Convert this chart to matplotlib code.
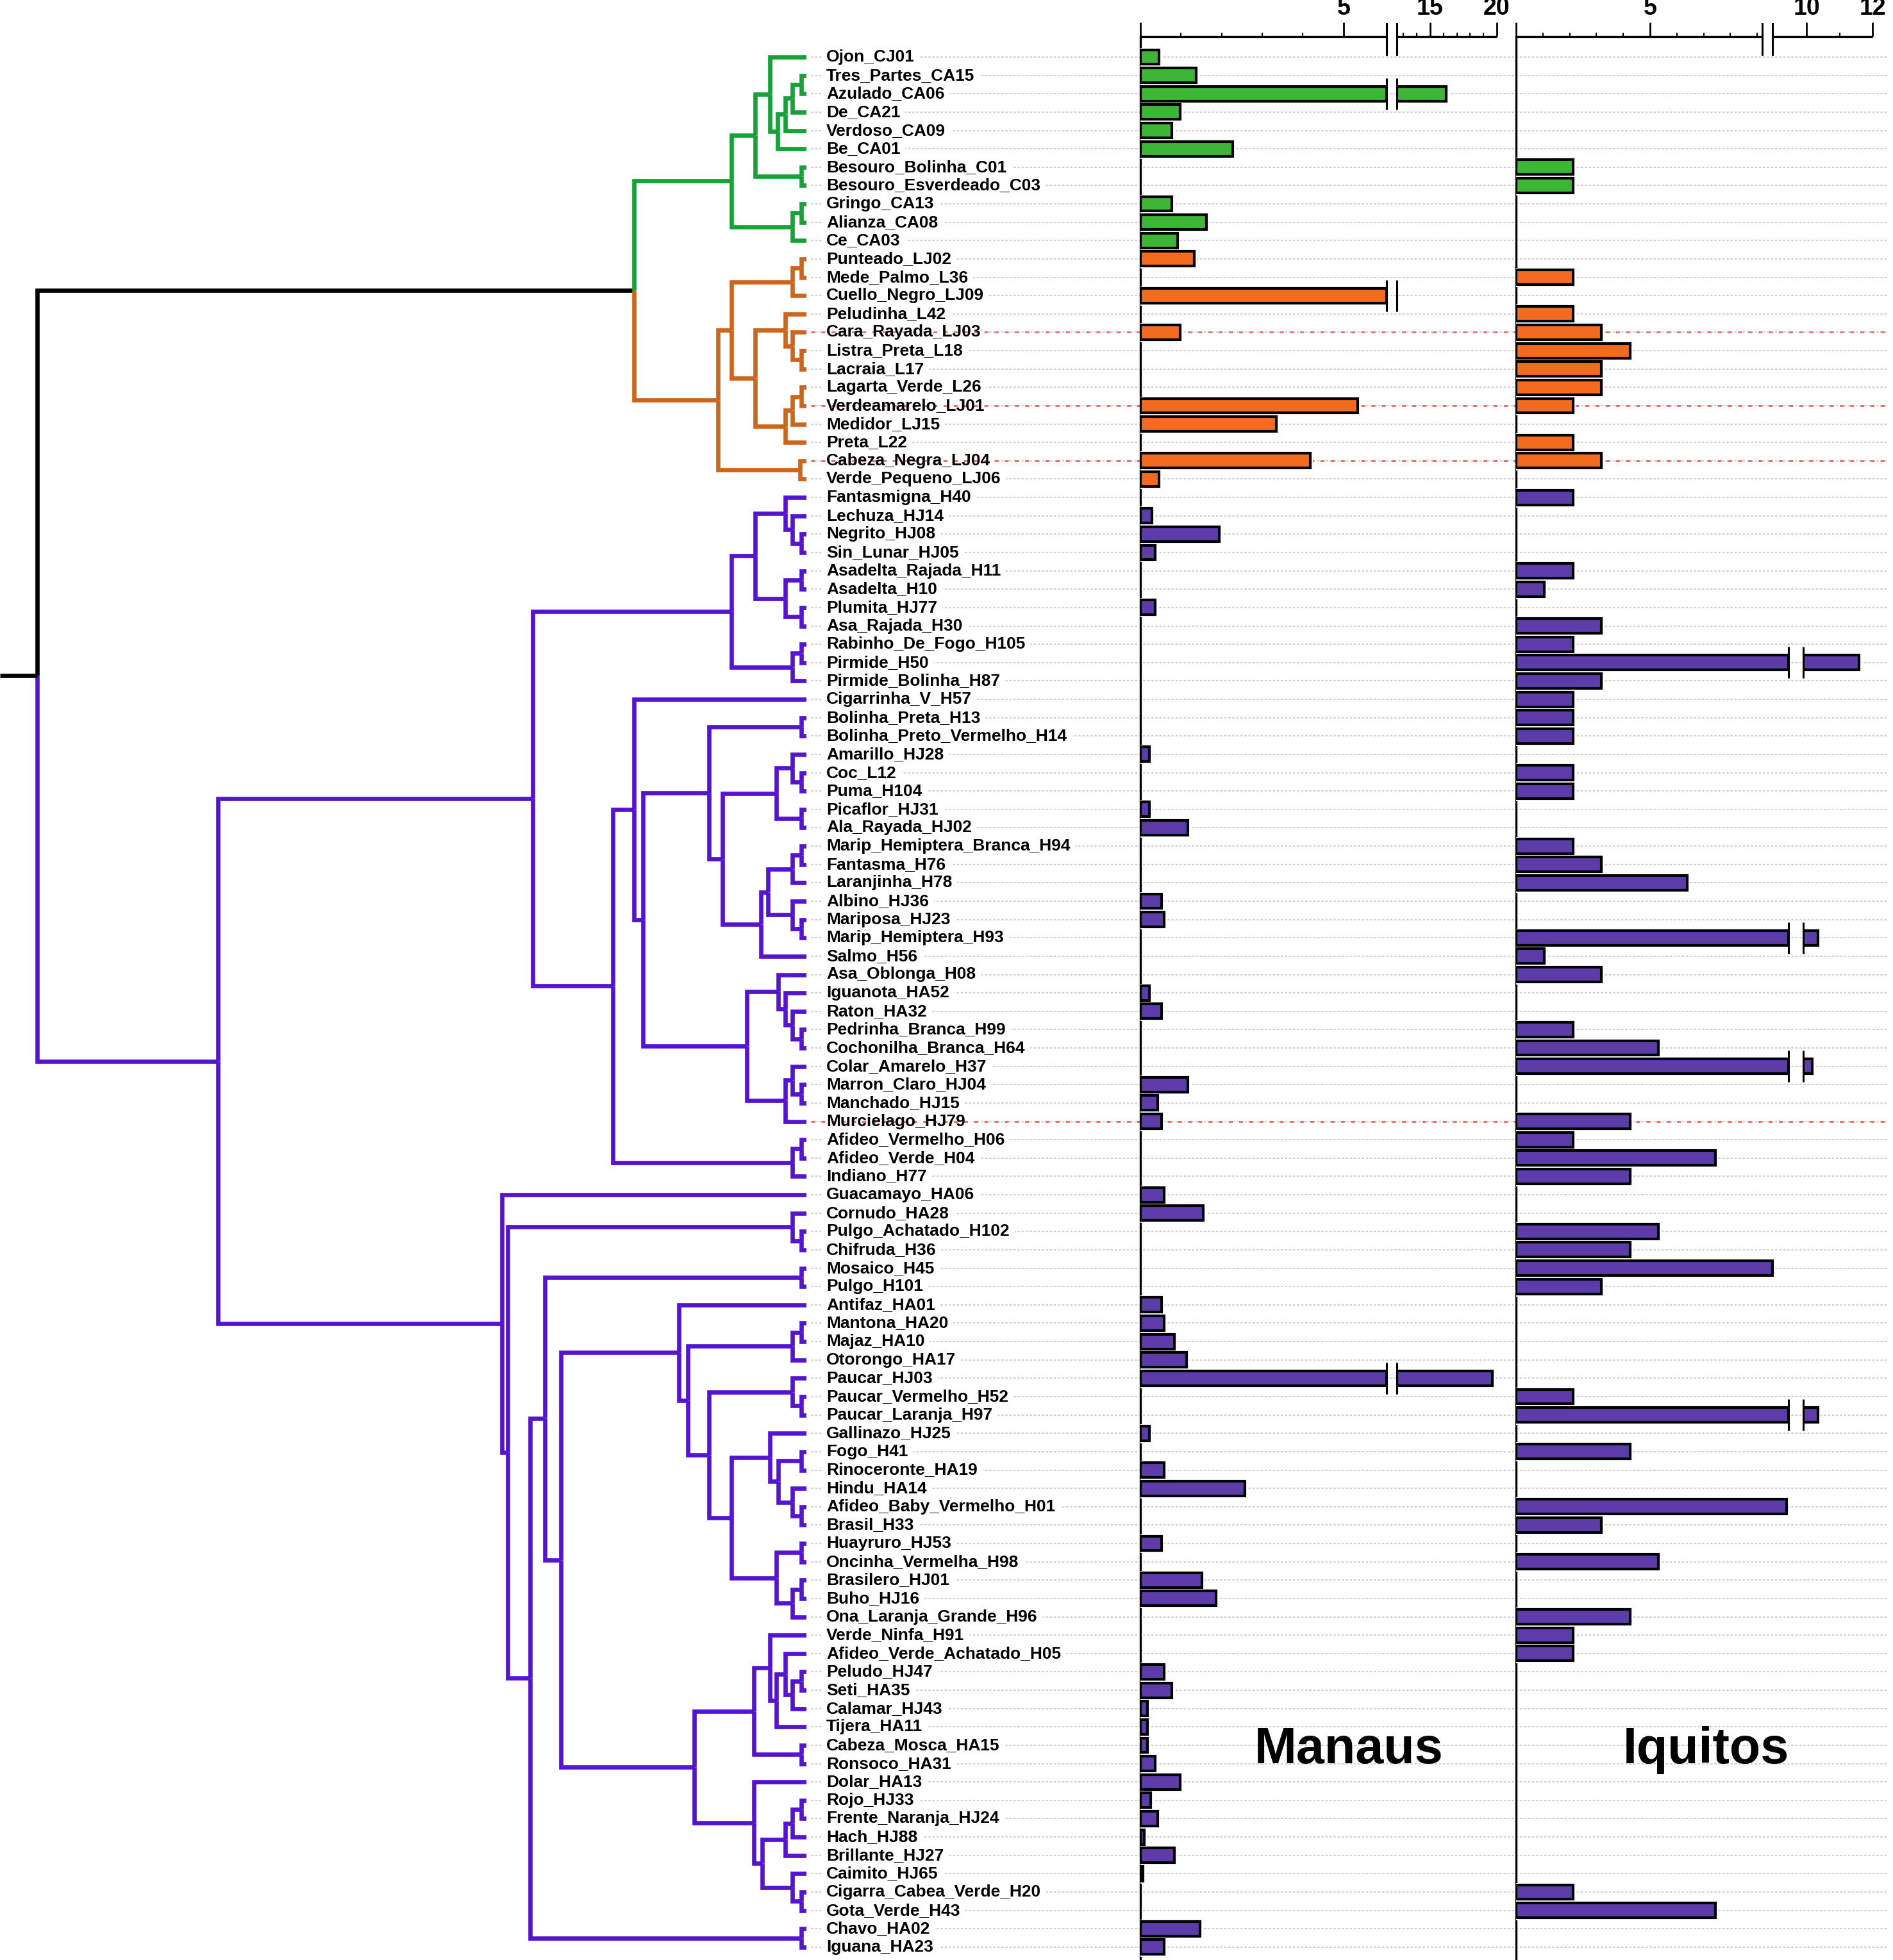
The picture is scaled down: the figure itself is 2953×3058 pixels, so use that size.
import numpy as np
import matplotlib
matplotlib.use("Agg")
import matplotlib.pyplot as plt
import matplotlib.patheffects as pe

plt.rcParams["font.family"] = ["Liberation Sans", "DejaVu Sans"]
plt.rcParams["font.weight"] = "bold"

# ---------------- data ----------------
species = [
    "Ojon_CJ01", "Tres_Partes_CA15", "Azulado_CA06", "De_CA21", "Verdoso_CA09", "Be_CA01",
    "Besouro_Bolinha_C01", "Besouro_Esverdeado_C03", "Gringo_CA13", "Alianza_CA08", "Ce_CA03",
    "Punteado_LJ02", "Mede_Palmo_L36", "Cuello_Negro_LJ09", "Peludinha_L42", "Cara_Rayada_LJ03",
    "Listra_Preta_L18", "Lacraia_L17", "Lagarta_Verde_L26", "Verdeamarelo_LJ01", "Medidor_LJ15",
    "Preta_L22", "Cabeza_Negra_LJ04", "Verde_Pequeno_LJ06",
    "Fantasmigna_H40", "Lechuza_HJ14", "Negrito_HJ08", "Sin_Lunar_HJ05", "Asadelta_Rajada_H11",
    "Asadelta_H10", "Plumita_HJ77", "Asa_Rajada_H30", "Rabinho_De_Fogo_H105", "Pirmide_H50",
    "Pirmide_Bolinha_H87", "Cigarrinha_V_H57", "Bolinha_Preta_H13", "Bolinha_Preto_Vermelho_H14",
    "Amarillo_HJ28", "Coc_L12", "Puma_H104", "Picaflor_HJ31", "Ala_Rayada_HJ02",
    "Marip_Hemiptera_Branca_H94", "Fantasma_H76", "Laranjinha_H78", "Albino_HJ36", "Mariposa_HJ23",
    "Marip_Hemiptera_H93", "Salmo_H56", "Asa_Oblonga_H08", "Iguanota_HA52", "Raton_HA32",
    "Pedrinha_Branca_H99", "Cochonilha_Branca_H64", "Colar_Amarelo_H37", "Marron_Claro_HJ04",
    "Manchado_HJ15", "Murcielago_HJ79", "Afideo_Vermelho_H06", "Afideo_Verde_H04", "Indiano_H77",
    "Guacamayo_HA06", "Cornudo_HA28", "Pulgo_Achatado_H102", "Chifruda_H36", "Mosaico_H45",
    "Pulgo_H101", "Antifaz_HA01", "Mantona_HA20", "Majaz_HA10", "Otorongo_HA17", "Paucar_HJ03",
    "Paucar_Vermelho_H52", "Paucar_Laranja_H97", "Gallinazo_HJ25", "Fogo_H41", "Rinoceronte_HA19",
    "Hindu_HA14", "Afideo_Baby_Vermelho_H01", "Brasil_H33", "Huayruro_HJ53", "Oncinha_Vermelha_H98",
    "Brasilero_HJ01", "Buho_HJ16", "Ona_Laranja_Grande_H96", "Verde_Ninfa_H91",
    "Afideo_Verde_Achatado_H05", "Peludo_HJ47", "Seti_HA35", "Calamar_HJ43", "Tijera_HA11",
    "Cabeza_Mosca_HA15", "Ronsoco_HA31", "Dolar_HA13", "Rojo_HJ33", "Frente_Naranja_HJ24",
    "Hach_HJ88", "Brillante_HJ27", "Caimito_HJ65", "Cigarra_Cabea_Verde_H20", "Gota_Verde_H43",
    "Chavo_HA02", "Iguana_HA23",
]

# % of individuals per population (rows in the same order as species)
manaus = [
    0.46, 1.38, 16.2, 0.98, 0.77, 2.27, 0, 0, 0.77, 1.63,
    0.92, 1.32, 0, 12.0, 0, 0.98, 0, 0, 0, 5.35,
    3.35, 0, 4.18, 0.46, 0, 0.28, 1.94, 0.37, 0, 0,
    0.37, 0, 0, 0, 0, 0, 0, 0, 0.22, 0,
    0, 0.22, 1.17, 0, 0, 0, 0.52, 0.58, 0, 0,
    0, 0.22, 0.52, 0, 0, 0, 1.17, 0.43, 0.52, 0,
    0, 0, 0.58, 1.54, 0, 0, 0, 0, 0.52, 0.58,
    0.83, 1.14, 19.66, 0, 0, 0.22, 0, 0.58, 2.58, 0,
    0, 0.52, 0, 1.51, 1.87, 0, 0, 0, 0.58, 0.77,
    0.18, 0.18, 0.18, 0.37, 0.98, 0.25, 0.43, 0.09, 0.83, 0.06,
    0, 0, 1.47, 0.58,
]
iquitos = [
    0, 0, 0, 0, 0, 0, 2.13, 2.13, 0, 0,
    0, 0, 2.13, 0, 2.13, 3.19, 4.26, 3.19, 3.19, 2.13,
    0, 2.13, 3.19, 0, 2.13, 0, 0, 0, 2.13, 1.06,
    0, 3.19, 2.13, 11.6, 3.19, 2.13, 2.13, 2.13, 0, 2.13,
    2.13, 0, 0, 2.13, 3.19, 6.38, 0, 0, 10.35, 1.06,
    3.19, 0, 0, 2.13, 5.32, 10.18, 0, 0, 4.26, 2.13,
    7.45, 4.26, 0, 0, 5.32, 4.26, 9.57, 3.19, 0, 0,
    0, 0, 0, 2.13, 10.35, 0, 4.26, 0, 0, 10.1,
    3.19, 0, 5.32, 0, 0, 4.26, 2.13, 2.13, 0, 0,
    0, 0, 0, 0, 0, 0, 0, 0, 0, 0,
    2.13, 7.45, 0, 0,
]

highlighted = ["Cara_Rayada_LJ03", "Verdeamarelo_LJ01", "Cabeza_Negra_LJ04", "Murcielago_HJ79"]

# dendrogram (newick, internal labels = node height)
green_tree = ("(((Ojon_CJ01,((((Tres_Partes_CA15,Azulado_CA06)4,De_CA21)11.5,Verdoso_CA09)17,Be_CA01)23)29.5,"
              "(Besouro_Bolinha_C01,Besouro_Esverdeado_C03)4)41,((Gringo_CA13,Alianza_CA08)4,Ce_CA03)11.5)60")
orange_tree = ("((((Punteado_LJ02,Mede_Palmo_L36)4,Cuello_Negro_LJ09)11.5,((Peludinha_L42,(Cara_Rayada_LJ03,"
               "(Listra_Preta_L18,Lacraia_L17)4)11.5)17,(((Lagarta_Verde_L26,Verdeamarelo_LJ01)4,Medidor_LJ15)11.5,"
               "Preta_L22)17)41)60,(Cabeza_Negra_LJ04,Verde_Pequeno_LJ06)5)71")

p_h = ("(((Fantasmigna_H40,(Lechuza_HJ14,(Negrito_HJ08,Sin_Lunar_HJ05)4)11.5)17,((Asadelta_Rajada_H11,Asadelta_H10)4,"
       "(Plumita_HJ77,Asa_Rajada_H30)4)17)41,((Rabinho_De_Fogo_H105,Pirmide_H50)4,Pirmide_Bolinha_H87)11.5)60")
p_q1 = "((Amarillo_HJ28,(Coc_L12,Puma_H104)4)11.5,(Picaflor_HJ31,Ala_Rayada_HJ02)4)24"
p_q2 = ("((((Marip_Hemiptera_Branca_H94,Fantasma_H76)4,Laranjinha_H78)11.5,(Albino_HJ36,"
        "(Mariposa_HJ23,Marip_Hemiptera_H93)4)11.5)31,Salmo_H56)36.5")
p_s1 = "(Asa_Oblonga_H08,(Iguanota_HA52,(Raton_HA32,(Pedrinha_Branca_H99,Cochonilha_Branca_H64)4)11.5)17)22.6"
p_s2 = "((Colar_Amarelo_H37,(Marron_Claro_HJ04,Manchado_HJ15)4)11.5,Murcielago_HJ79)17"
p_hj = ("((Cigarrinha_V_H57,(((Bolinha_Preta_H13,Bolinha_Preto_Vermelho_H14)4,(" + p_q1 + "," + p_q2 + ")67)78,("
        + p_s1 + "," + p_s2 + ")47.6)131)138,((Afideo_Vermelho_H06,Afideo_Verde_H04)4,Indiano_H77)11.5)155")
p_a1 = ("((Gallinazo_HJ25,((Fogo_H41,Rinoceronte_HA19)4,(Hindu_HA14,(Afideo_Baby_Vermelho_H01,Brasil_H33)4)11.5)22.6)29.5,"
        "((Huayruro_HJ53,Oncinha_Vermelha_H98)4,((Brasilero_HJ01,Buho_HJ16)4,Ona_Laranja_Grande_H96)11.5)24)60")
p_a = ("(Antifaz_HA01,(((Mantona_HA20,Majaz_HA10)4,Otorongo_HA17)11.5,((Paucar_HJ03,(Paucar_Vermelho_H52,"
       "Paucar_Laranja_H97)4)11.5," + p_a1 + ")78)95)102")
p_b = ("(((Verde_Ninfa_H91,((Afideo_Verde_Achatado_H05,((Peludo_HJ47,Seti_HA35)4,Calamar_HJ43)11.5)17,Tijera_HA11)24)29.5,"
       "(Cabeza_Mosca_HA15,Ronsoco_HA31)4)42,(Dolar_HA13,((((Rojo_HJ33,Frente_Naranja_HJ24)4,Hach_HJ88)11.5,"
       "Brillante_HJ27)17,(Caimito_HJ65,(Cigarra_Cabea_Verde_H20,Gota_Verde_H43)4)11.5)35.3)42)90")
p_low = ("(Guacamayo_HA06,((Cornudo_HA28,(Pulgo_Achatado_H102,Chifruda_H36)4)11.5,(((Mosaico_H45,Pulgo_H101)4,("
         + p_a + "," + p_b + ")196.8)209.6,(Chavo_HA02,Iguana_HA23)4)221)239)244")
purple_tree = "((" + p_h + "," + p_hj + ")219," + p_low + ")471"

split_green_orange = 138
root_height = 616

# ---------------- layout ----------------
W, H, DPI = 2953, 3058, 100
TOP_PX, ROW0_PX, ROW_PX = 57, 89, 28.63
AX_H_PX = H - TOP_PX
n = len(species)
rows = np.arange(n)
ylim = ((H - ROW0_PX) / ROW_PX, -(ROW0_PX - TOP_PX) / ROW_PX)

TREE_COL = {"g": "#17a238", "o": "#cd661d", "p": "#5414d2", "k": "black"}
BAR_COL = {"g": "#3db535", "o": "#f26b1e", "p": "#5b3ca8"}

fig = plt.figure(figsize=(W / DPI, H / DPI), dpi=DPI)
fig.patch.set_facecolor("white")


def panel_axes(x0, x1, z):
    ax = fig.add_axes([x0 / W, 0, (x1 - x0) / W, AX_H_PX / H], zorder=z)
    ax.set_ylim(*ylim)
    ax.patch.set_visible(False)
    for s in ax.spines.values():
        s.set_visible(False)
    ax.set_yticks([])
    return ax


def parse(s):
    pos = 0

    def node():
        nonlocal pos
        if s[pos] == "(":
            pos += 1
            kids = [node()]
            while s[pos] == ",":
                pos += 1
                kids.append(node())
            pos += 1
            j = pos
            while pos < len(s) and s[pos] not in ",)":
                pos += 1
            return {"kids": kids, "h": float(s[j:pos])}
        j = pos
        while s[pos] not in ",)":
            pos += 1
        return {"name": s[j:pos], "h": 0.0}

    return node()


def paint(nd, c):
    nd["col"] = c
    for k in nd.get("kids", []):
        paint(k, c)


g, o, p = parse(green_tree), parse(orange_tree), parse(purple_tree)
paint(g, "g"); paint(o, "o"); paint(p, "p")
go = {"kids": [g, o], "h": split_green_orange, "col": "k"}
root = {"kids": [go, p], "h": root_height, "col": "k"}

leaf_order, leaf_col = [], []


def layout(nd):
    if "name" in nd:
        nd["y"] = len(leaf_order)
        leaf_order.append(nd["name"])
        leaf_col.append(nd["col"])
    else:
        nd["y"] = np.mean([layout(k) for k in nd["kids"]])
    return nd["y"]


layout(root)
assert leaf_order == species

# ---------------- tree ----------------
TREE_X1 = 1258
ax_tree = panel_axes(0, TREE_X1, 1)
span = TREE_X1 / 1.948
ax_tree.set_xlim(span, 0)
ax_tree.set_xticks([])


def draw(nd):
    for k in nd.get("kids", []):
        ax_tree.plot([nd["h"], nd["h"], k["h"]], [nd["y"], k["y"], k["y"]],
                     color=TREE_COL[k["col"]], lw=4.8, solid_joinstyle="miter",
                     solid_capstyle="butt")
        draw(k)


draw(root)
ax_tree.plot([span, root["h"]], [root["y"], root["y"]], color="black", lw=4.8,
             solid_capstyle="butt")

# ---------------- labels + guide lines ----------------
ax_bg = panel_axes(TREE_X1, 2944, 0)
ax_bg.set_xlim(0, 1)
ax_bg.set_xticks([])
ytr = ax_bg.get_yaxis_transform()
ax_bg.hlines(rows, 0.004, 1, transform=ytr, colors="#cacad2",
             linestyles=(0, (2, 1.5)), lw=1.3, zorder=1)
red_rows = [species.index(s) for s in highlighted]
ax_bg.hlines(red_rows, 0.004, 1, transform=ytr, colors="#e5776c",
             linestyles=(0, (2, 3.2)), lw=2.2, zorder=3)
for r, name in enumerate(species):
    kw = dict(xy=(0, r), xycoords=ytr, xytext=(22.3, 0), textcoords="offset points",
              ha="left", va="center", fontsize=19, fontweight="bold")
    ax_bg.annotate(name, color="white", zorder=2,
                   bbox=dict(boxstyle="square,pad=0.3", fc="white", ec="none"), **kw)
    ax_bg.annotate(name, color="black", zorder=4, **kw)

# ---------------- bar panels ----------------
bar_colors = np.array([BAR_COL[c] for c in leaf_col])


def style_axis(ax, major, labels, minor, left=False):
    ax.xaxis.set_ticks_position("top")
    ax.set_xticks(major)
    ax.set_xticklabels(labels)
    ax.set_xticks(minor, minor=True)
    ax.tick_params(axis="x", which="major", direction="out", length=16, width=2,
                   labelsize=27, pad=3)
    ax.tick_params(axis="x", which="minor", direction="out", length=4, width=1.5)
    if left:
        ax.spines["left"].set_visible(True)
        ax.spines["left"].set_linewidth(2.4)


def top_axis(ax, a, b, mark):
    tr = ax.get_xaxis_transform()
    ax.plot([a, b], [1, 1], transform=tr, color="black", lw=2.4, clip_on=False,
            solid_capstyle="butt")
    ax.plot([mark, mark], [1 + 20 / AX_H_PX, 1 - 28 / AX_H_PX], transform=tr,
            color="black", lw=2.2, clip_on=False)


def draw_bars(ax_l, ax_r, vals, brk, r_lo):
    vals = np.asarray(vals, float)
    has = vals > 0
    kw = dict(height=0.8, edgecolor="black", linewidth=3.0, zorder=3)
    bars = ax_l.barh(rows[has], np.minimum(vals, brk)[has], color=bar_colors[has], **kw)
    broken = vals > brk
    far = broken & (vals > r_lo)
    bars_r = ax_r.barh(rows[far], (vals - r_lo)[far], left=r_lo, color=bar_colors[far], **kw)
    for b in list(bars.patches) + list(bars_r.patches):
        b.set_path_effects([pe.Stroke(linewidth=5.0, foreground="white"), pe.Normal()])
    for r in rows[broken]:
        ax_l.vlines(brk, r - 0.85, r + 0.85, colors="black", lw=2.2, clip_on=False, zorder=5)
        ax_r.vlines(r_lo, r - 0.85, r + 0.85, colors="black", lw=2.2, clip_on=False, zorder=5)


# Manaus (broken axis 0-6 | 12.5-20)
man_l = panel_axes(1779, 2163, 2)
man_l.set_xlim(0, 6.06)
man_r = panel_axes(2179, 2335, 2)
man_r.set_xlim(12.5, 20)
style_axis(man_l, [0, 5], ["", "5"], [1, 2, 3, 4], left=True)
style_axis(man_r, [15, 20], ["15", "20"], [13, 14, 16, 17, 18, 19])
top_axis(man_l, 0, 6.06, 6.06)
top_axis(man_r, 12.5, 20, 12.5)
draw_bars(man_l, man_r, manaus, 6.06, 12.5)

# Iquitos (broken axis 0-10 | 10-12)
iq_l = panel_axes(2365, 2790, 2)
iq_l.set_xlim(0, 10.17)
iq_r = panel_axes(2813, 2921, 2)
iq_r.set_xlim(9.9, 12)
style_axis(iq_l, [0, 5], ["", "5"], [1, 2, 3, 4, 6, 7, 8, 9], left=True)
style_axis(iq_r, [10, 12], ["10", "12"], [11])
top_axis(iq_l, 0, 9.2, 9.2)
top_axis(iq_r, 8.96, 12, 8.96)
draw_bars(iq_l, iq_r, iquitos, 10.17, 9.9)

fig.text(2104 / W, 1 - 2731 / H, "Manaus", ha="center", va="center",
         fontsize=57, fontweight="bold", zorder=10)
fig.text(2661 / W, 1 - 2731 / H, "Iquitos", ha="center", va="center",
         fontsize=57, fontweight="bold", zorder=10)

fig.savefig("out.png", dpi=DPI, facecolor="white")
